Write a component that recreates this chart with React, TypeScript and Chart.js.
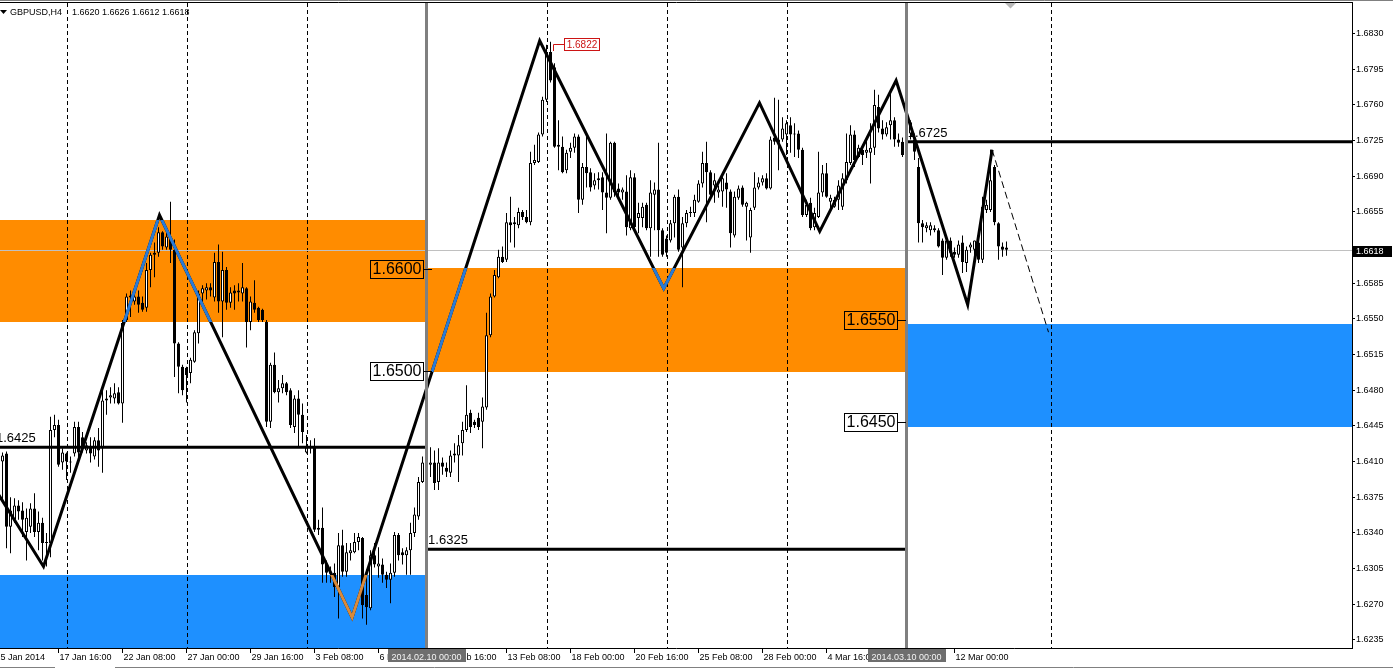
import React, { useEffect, useRef } from 'react';
import { Chart, registerables } from 'chart.js';

Chart.register(...registerables);

const FONT = "'Liberation Sans', Arial, sans-serif";

// ---- candles (H4 bars, bar index 0 = 15 Jan 2014 00:00) ----
const FIRST_BAR = 2;
const opens = [
  1.6410,1.6418,1.6346,1.6353,1.6367,1.6362,1.6341,1.6346,1.6364,1.6341,
  1.6350,1.6330,1.6330,1.6441,1.6446,1.6409,1.6418,1.6409,1.6418,1.6444,
  1.6434,1.6421,1.6424,1.6415,1.6431,1.6423,1.6470,1.6473,1.6472,1.6478,
  1.6467,1.6549,1.6573,1.6567,1.6572,1.6566,1.6561,1.6598,1.6613,1.6615,
  1.6635,1.6620,1.6630,1.6618,1.6526,1.6503,1.6502,1.6497,1.6508,1.6536,
  1.6575,1.6578,1.6581,1.6571,1.6606,1.6567,1.6598,1.6566,1.6578,1.6576,
  1.6575,1.6580,1.6547,1.6566,1.6561,1.6559,1.6547,1.6449,1.6505,1.6478,
  1.6482,1.6487,1.6480,1.6444,1.6472,1.6456,1.6419,1.6423,1.6424,1.6343,
  1.6345,1.6310,1.6302,1.6301,1.6287,1.6328,1.6302,1.6320,1.6321,1.6331,
  1.6335,1.6279,1.6266,1.6318,1.6307,1.6309,1.6299,1.6294,1.6301,1.6338,
  1.6321,1.6318,1.6323,1.6340,1.6356,1.6390,1.6409,1.6407,1.6409,1.6390,
  1.6409,1.6404,1.6399,1.6416,1.6416,1.6428,1.6441,1.6458,1.6449,1.6453,
  1.6449,1.6463,1.6534,1.6572,1.6591,1.6611,1.6608,1.6645,1.6645,1.6642,
  1.6655,1.6650,1.6645,1.6703,1.6704,1.6731,1.6765,1.6812,1.6797,1.6721,
  1.6719,1.6696,1.6714,1.6718,1.6729,1.6667,1.6699,1.6694,1.6681,1.6686,
  1.6689,1.6674,1.6669,1.6723,1.6678,1.6674,1.6675,1.6639,1.6689,1.6649,
  1.6649,1.6662,1.6639,1.6672,1.6677,1.6637,1.6629,1.6627,1.6644,1.6670,
  1.6620,1.6644,1.6654,1.6654,1.6665,1.6683,1.6703,1.6694,1.6681,1.6674,
  1.6675,1.6684,1.6675,1.6632,1.6669,1.6679,1.6660,1.6630,1.6659,1.6679,
  1.6684,1.6688,1.6678,1.6728,1.6726,1.6726,1.6731,1.6740,1.6732,1.6732,
  1.6716,1.6652,1.6664,1.6640,1.6650,1.6674,1.6693,1.6665,1.6660,1.6667,
  1.6660,1.6686,1.6703,1.6731,1.6709,1.6716,1.6713,1.6713,1.6718,1.6758,
  1.6737,1.6731,1.6740,1.6745,1.6726,1.6724,1.6716,1.6732,1.6726,1.6699,
  1.6644,1.6639,1.6637,1.6639,1.6637,1.6627,1.6610,1.6627,1.6616,1.6613,
  1.6625,1.6605,1.6620,1.6618,1.6625,1.6608,1.6657,1.6657,1.6699,1.6644,
  1.6621,1.6620,
];
const highs = [
  1.6419,1.6420,1.6375,1.6374,1.6372,1.6370,1.6364,1.6369,1.6379,1.6361,
  1.6355,1.6340,1.6454,1.6456,1.6451,1.6423,1.6419,1.6415,1.6449,1.6449,
  1.6439,1.6429,1.6434,1.6434,1.6443,1.6480,1.6480,1.6483,1.6487,1.6483,
  1.6549,1.6575,1.6578,1.6575,1.6578,1.6572,1.6605,1.6615,1.6625,1.6640,
  1.6636,1.6636,1.6665,1.6628,1.6527,1.6505,1.6503,1.6512,1.6539,1.6578,
  1.6583,1.6585,1.6585,1.6615,1.6623,1.6616,1.6601,1.6581,1.6583,1.6585,
  1.6605,1.6581,1.6572,1.6588,1.6562,1.6560,1.6549,1.6507,1.6517,1.6490,
  1.6495,1.6488,1.6482,1.6475,1.6480,1.6467,1.6436,1.6431,1.6433,1.6353,
  1.6365,1.6313,1.6307,1.6310,1.6340,1.6343,1.6330,1.6330,1.6340,1.6340,
  1.6336,1.6304,1.6323,1.6330,1.6326,1.6315,1.6302,1.6310,1.6341,1.6340,
  1.6325,1.6326,1.6350,1.6365,1.6395,1.6415,1.6419,1.6424,1.6421,1.6423,
  1.6414,1.6409,1.6421,1.6428,1.6436,1.6449,1.6485,1.6461,1.6451,1.6458,
  1.6473,1.6556,1.6575,1.6598,1.6618,1.6621,1.6654,1.6670,1.6650,1.6659,
  1.6657,1.6657,1.6714,1.6721,1.6733,1.6768,1.6819,1.6822,1.6801,1.6745,
  1.6729,1.6716,1.6723,1.6732,1.6731,1.6703,1.6729,1.6698,1.6693,1.6694,
  1.6694,1.6732,1.6724,1.6724,1.6683,1.6679,1.6691,1.6696,1.6693,1.6664,
  1.6664,1.6664,1.6686,1.6684,1.6723,1.6639,1.6632,1.6647,1.6672,1.6677,
  1.6650,1.6657,1.6660,1.6672,1.6686,1.6714,1.6724,1.6696,1.6693,1.6681,
  1.6694,1.6693,1.6677,1.6675,1.6681,1.6681,1.6665,1.6659,1.6694,1.6689,
  1.6691,1.6693,1.6729,1.6767,1.6765,1.6748,1.6745,1.6748,1.6742,1.6735,
  1.6718,1.6667,1.6669,1.6659,1.6714,1.6701,1.6703,1.6672,1.6670,1.6686,
  1.6693,1.6732,1.6740,1.6735,1.6721,1.6721,1.6726,1.6742,1.6775,1.6770,
  1.6745,1.6743,1.6773,1.6748,1.6732,1.6728,1.6731,1.6745,1.6732,1.6708,
  1.6647,1.6645,1.6645,1.6642,1.6639,1.6629,1.6630,1.6630,1.6620,1.6627,
  1.6632,1.6621,1.6625,1.6627,1.6634,1.6670,1.6667,1.6716,1.6701,1.6645,
  1.6625,1.6626,
];
const lows = [
  1.6372,1.6325,1.6320,1.6350,1.6353,1.6336,1.6313,1.6340,1.6336,1.6323,
  1.6313,1.6307,1.6316,1.6434,1.6405,1.6402,1.6392,1.6399,1.6415,1.6414,
  1.6419,1.6418,1.6409,1.6412,1.6405,1.6399,1.6456,1.6467,1.6467,1.6466,
  1.6448,1.6547,1.6552,1.6564,1.6556,1.6557,1.6557,1.6581,1.6591,1.6611,
  1.6618,1.6618,1.6605,1.6493,1.6477,1.6475,1.6468,1.6487,1.6507,1.6526,
  1.6566,1.6569,1.6572,1.6567,1.6556,1.6532,1.6559,1.6561,1.6559,1.6567,
  1.6567,1.6522,1.6539,1.6556,1.6547,1.6547,1.6444,1.6443,1.6477,1.6468,
  1.6477,1.6475,1.6443,1.6438,1.6424,1.6428,1.6418,1.6418,1.6341,1.6338,
  1.6291,1.6291,1.6291,1.6277,1.6256,1.6297,1.6297,1.6313,1.6320,1.6323,
  1.6256,1.6250,1.6264,1.6306,1.6296,1.6291,1.6286,1.6271,1.6297,1.6313,
  1.6309,1.6299,1.6299,1.6336,1.6353,1.6389,1.6402,1.6395,1.6382,1.6382,
  1.6397,1.6395,1.6395,1.6409,1.6390,1.6416,1.6439,1.6438,1.6443,1.6441,
  1.6423,1.6461,1.6532,1.6571,1.6590,1.6605,1.6606,1.6625,1.6620,1.6639,
  1.6647,1.6644,1.6642,1.6701,1.6703,1.6729,1.6763,1.6782,1.6718,1.6696,
  1.6693,1.6693,1.6708,1.6713,1.6654,1.6662,1.6679,1.6675,1.6677,1.6677,
  1.6657,1.6634,1.6667,1.6670,1.6667,1.6667,1.6632,1.6637,1.6637,1.6634,
  1.6640,1.6637,1.6611,1.6637,1.6611,1.6611,1.6611,1.6625,1.6630,1.6616,
  1.6581,1.6640,1.6650,1.6650,1.6664,1.6679,1.6645,1.6669,1.6664,1.6669,
  1.6660,1.6659,1.6620,1.6630,1.6667,1.6660,1.6627,1.6615,1.6657,1.6677,
  1.6681,1.6677,1.6677,1.6721,1.6696,1.6724,1.6711,1.6713,1.6709,1.6708,
  1.6650,1.6650,1.6637,1.6637,1.6649,1.6670,1.6669,1.6657,1.6659,1.6657,
  1.6657,1.6683,1.6701,1.6699,1.6708,1.6701,1.6708,1.6683,1.6711,1.6733,
  1.6726,1.6729,1.6726,1.6719,1.6719,1.6709,1.6714,1.6726,1.6706,1.6625,
  1.6625,1.6635,1.6632,1.6635,1.6620,1.6593,1.6608,1.6611,1.6610,1.6610,
  1.6595,1.6596,1.6615,1.6610,1.6605,1.6605,1.6654,1.6655,1.6642,1.6608,
  1.6611,1.6612,
];
const closes = [
  1.6416,1.6346,1.6362,1.6367,1.6361,1.6353,1.6355,1.6364,1.6341,1.6350,
  1.6330,1.6331,1.6441,1.6446,1.6407,1.6419,1.6410,1.6410,1.6444,1.6419,
  1.6423,1.6426,1.6418,1.6431,1.6421,1.6470,1.6472,1.6475,1.6477,1.6467,
  1.6546,1.6572,1.6571,1.6572,1.6564,1.6559,1.6598,1.6613,1.6615,1.6635,
  1.6621,1.6631,1.6618,1.6526,1.6503,1.6480,1.6495,1.6510,1.6537,1.6575,
  1.6580,1.6581,1.6578,1.6606,1.6567,1.6598,1.6566,1.6576,1.6575,1.6578,
  1.6581,1.6547,1.6567,1.6559,1.6549,1.6549,1.6449,1.6505,1.6478,1.6482,
  1.6487,1.6478,1.6446,1.6472,1.6456,1.6439,1.6424,1.6424,1.6343,1.6345,
  1.6309,1.6301,1.6300,1.6287,1.6328,1.6302,1.6321,1.6323,1.6331,1.6336,
  1.6269,1.6267,1.6318,1.6309,1.6310,1.6299,1.6294,1.6301,1.6338,1.6318,
  1.6318,1.6323,1.6340,1.6358,1.6390,1.6409,1.6414,1.6409,1.6389,1.6409,
  1.6405,1.6400,1.6416,1.6418,1.6426,1.6441,1.6456,1.6444,1.6446,1.6444,
  1.6464,1.6534,1.6572,1.6593,1.6611,1.6606,1.6645,1.6642,1.6643,1.6655,
  1.6650,1.6645,1.6703,1.6706,1.6731,1.6765,1.6812,1.6784,1.6719,1.6719,
  1.6694,1.6713,1.6718,1.6729,1.6667,1.6699,1.6693,1.6679,1.6686,1.6688,
  1.6674,1.6669,1.6723,1.6674,1.6674,1.6677,1.6640,1.6689,1.6640,1.6654,
  1.6660,1.6639,1.6674,1.6677,1.6637,1.6613,1.6615,1.6644,1.6670,1.6618,
  1.6644,1.6654,1.6655,1.6667,1.6683,1.6703,1.6694,1.6672,1.6686,1.6677,
  1.6688,1.6677,1.6634,1.6670,1.6678,1.6662,1.6664,1.6657,1.6679,1.6684,
  1.6688,1.6678,1.6726,1.6724,1.6723,1.6737,1.6742,1.6731,1.6731,1.6716,
  1.6652,1.6662,1.6639,1.6654,1.6674,1.6693,1.6670,1.6669,1.6667,1.6681,
  1.6688,1.6704,1.6731,1.6706,1.6718,1.6711,1.6716,1.6718,1.6760,1.6737,
  1.6731,1.6738,1.6745,1.6726,1.6723,1.6711,1.6726,1.6743,1.6714,1.6644,
  1.6640,1.6642,1.6642,1.6637,1.6621,1.6610,1.6627,1.6615,1.6613,1.6623,
  1.6606,1.6618,1.6623,1.6627,1.6608,1.6660,1.6662,1.6686,1.6645,1.6621,
  1.6618,1.6618,
];

// ---- header / price info ----
const symbolText = 'GBPUSD,H4';
const ohlcText = '1.6620 1.6626 1.6612 1.6618';
const bidPrice = 1.6618;

// ---- axes ----
const yTickValues = [1.6235, 1.6270, 1.6305, 1.6340, 1.6375, 1.6410, 1.6445, 1.6480, 1.6515,
  1.6550, 1.6585, 1.6655, 1.6690, 1.6725, 1.6760, 1.6795, 1.6830];
const timeLabelBars = [0, 16, 32, 48, 64, 80, 96, 112, 128, 144, 160, 176, 192, 208, 224, 240];
const timeLabelTexts = ['15 Jan 2014', '17 Jan 16:00', '22 Jan 08:00', '27 Jan 00:00', '29 Jan 16:00',
  '3 Feb 08:00', '6 Feb 00:00', '10 Feb 16:00', '13 Feb 08:00', '18 Feb 00:00', '20 Feb 16:00',
  '25 Feb 08:00', '28 Feb 00:00', '4 Mar 16:00', '7 Mar 08:00', '12 Mar 00:00'];

// ---- objects ----
const separatorBars = [108, 228];
const separatorTexts = ['2014.02.10 00:00', '2014.03.10 00:00'];
const gridBars = [18.25, 48.25, 78.25, 138.25, 168.25, 198.25, 264.25];

const zoneFrom = [-10, -10, 108.25, 228.25];
const zoneTo = [108.25, 108.25, 228.25, 400];
const zoneTop = [1.6647, 1.6299, 1.6600, 1.6545];
const zoneBottom = [1.6547, 1.6100, 1.6498, 1.6444];
const zoneFill = ['#FF8C00', '#1E90FF', '#FF8C00', '#1E90FF'];
const zoneLineInk = ['#2a7bd6', '#d98a3b', '#2a7bd6', '#d98a3b'];

const levelFrom = [-10, 108.25, 228.25];
const levelTo = [108.25, 228.25, 400];
const levelPrice = [1.6424, 1.6324, 1.6724];
const levelText = ['1.6425', '1.6325', '1.6725'];
const levelTextBar = [0.375, 108.4, 228.3];

const zigzagBars = [0, 12.25, 41.25, 89.4, 136.3, 167.3, 191.25, 206.3, 225.4, 243.3, 249.4];
const zigzagPrices = [1.6384, 1.6307, 1.6652, 1.6257, 1.6823, 1.6580, 1.6762, 1.6636, 1.6784, 1.6564, 1.6716];
const projectionBars = [249.4, 263.5];
const projectionPrices = [1.6716, 1.6537];

const priceTagValues = [1.6600, 1.6500, 1.6550, 1.6450];
const priceTagBars = [109.4, 109.4, 227.85, 227.85];

const highMarkBar = 139;
const highMarkPrice = 1.6822;
const shiftMarkBar = 254;

// visible ranges
const X_MIN = 1.375;
const X_MAX = 339.375;
const Y_MAX = 1.686006;
const Y_MIN = 1.622706;

const mt4Plugin: any = {
  id: 'mt4',
  beforeDatasetsDraw(chart: any) {
    const { ctx, chartArea: a } = chart;
    const x = chart.scales.x, y = chart.scales.y;
    ctx.save();
    ctx.beginPath();
    ctx.rect(a.left, a.top, a.right - a.left, a.bottom - a.top);
    ctx.clip();
    zoneFill.forEach((c, k) => {
      const x0 = Math.round(x.getPixelForValue(zoneFrom[k]));
      const x1 = Math.round(x.getPixelForValue(zoneTo[k]));
      const y0 = Math.round(y.getPixelForValue(zoneTop[k]));
      const y1 = Math.round(y.getPixelForValue(zoneBottom[k]));
      ctx.fillStyle = c;
      ctx.fillRect(x0, y0, x1 - x0, y1 - y0);
    });
    ctx.strokeStyle = '#000';
    ctx.lineWidth = 1;
    ctx.setLineDash([4, 3]);
    gridBars.forEach((g) => {
      const gx = Math.floor(x.getPixelForValue(g)) + 0.5;
      ctx.beginPath();
      ctx.moveTo(gx, a.top);
      ctx.lineTo(gx, a.bottom);
      ctx.stroke();
    });
    ctx.setLineDash([]);
    const by = Math.round(y.getPixelForValue(bidPrice)) + 0.5;
    ctx.strokeStyle = '#C0C0C0';
    ctx.beginPath();
    ctx.moveTo(a.left, by);
    ctx.lineTo(a.right, by);
    ctx.stroke();
    ctx.restore();
  },
  afterDatasetsDraw(chart: any) {
    const { ctx, chartArea: a } = chart;
    const x = chart.scales.x, y = chart.scales.y;
    const pts = zigzagBars.map((b, k) => [x.getPixelForValue(b), y.getPixelForValue(zigzagPrices[k])]);
    zoneFill.forEach((_, k) => {
      const x0 = Math.max(a.left, Math.round(x.getPixelForValue(zoneFrom[k])));
      const x1 = Math.min(a.right, Math.round(x.getPixelForValue(zoneTo[k])));
      const y0 = Math.max(a.top, Math.round(y.getPixelForValue(zoneTop[k])));
      const y1 = Math.min(a.bottom, Math.round(y.getPixelForValue(zoneBottom[k])));
      ctx.save();
      ctx.beginPath();
      ctx.rect(x0, y0, x1 - x0, y1 - y0);
      ctx.clip();
      ctx.strokeStyle = zoneLineInk[k];
      ctx.lineWidth = 3;
      ctx.lineJoin = 'miter';
      ctx.beginPath();
      pts.forEach(([px, py], i) => (i ? ctx.lineTo(px, py) : ctx.moveTo(px, py)));
      ctx.stroke();
      ctx.restore();
    });
    // level descriptions
    ctx.save();
    ctx.font = `13px ${FONT}`;
    ctx.fillStyle = '#000';
    ctx.textAlign = 'left';
    ctx.textBaseline = 'alphabetic';
    levelText.forEach((t, k) => {
      ctx.fillText(t, x.getPixelForValue(levelTextBar[k]), Math.round(y.getPixelForValue(levelPrice[k])) - 5);
    });
    ctx.restore();
    // vertical separators
    ctx.save();
    ctx.strokeStyle = '#808080';
    ctx.lineWidth = 3;
    separatorBars.forEach((b) => {
      const sx = x.getPixelForValue(b);
      ctx.beginPath();
      ctx.moveTo(sx, a.top);
      ctx.lineTo(sx, a.bottom);
      ctx.stroke();
    });
    ctx.restore();
  },
  afterDraw(chart: any) {
    const { ctx, chartArea: a, width: W } = chart;
    const x = chart.scales.x, y = chart.scales.y;
    ctx.save();
    // frame
    ctx.lineWidth = 1;
    ctx.strokeStyle = '#808080';
    ctx.beginPath(); ctx.moveTo(0, 0.5); ctx.lineTo(W, 0.5); ctx.stroke();
    ctx.strokeStyle = '#000';
    ctx.beginPath(); ctx.moveTo(0, 2.5); ctx.lineTo(a.right + 1, 2.5); ctx.stroke();
    ctx.beginPath(); ctx.moveTo(0, a.bottom + 0.5); ctx.lineTo(a.right + 1, a.bottom + 0.5); ctx.stroke();
    ctx.strokeStyle = '#808080';
    ctx.beginPath(); ctx.moveTo(0, 667.5); ctx.lineTo(55, 667.5); ctx.moveTo(115, 667.5); ctx.lineTo(W, 667.5); ctx.stroke();

    // price tags with boxes
    ctx.font = `16px ${FONT}`;
    ctx.textAlign = 'center';
    ctx.textBaseline = 'middle';
    priceTagValues.forEach((v, k) => {
      const ax = Math.round(x.getPixelForValue(priceTagBars[k]));
      const ay = Math.round(y.getPixelForValue(v)) + 1;
      const right = ax - 9;
      const left = right - 53;
      ctx.strokeStyle = '#000';
      ctx.lineWidth = 1;
      ctx.strokeRect(left + 0.5, ay - 8.5, 53, 18);
      ctx.beginPath();
      ctx.moveTo(right, ay + 0.5);
      ctx.lineTo(ax, ay + 0.5);
      ctx.stroke();
      ctx.fillStyle = '#000';
      ctx.fillText(v.toFixed(4), left + 27, ay + 1);
    });

    // high mark label
    const hx = Math.round(x.getPixelForValue(highMarkBar));
    const hy = Math.round(y.getPixelForValue(highMarkPrice));
    ctx.strokeStyle = '#cc1414';
    ctx.beginPath();
    ctx.moveTo(hx + 2.5, hy + 9);
    ctx.lineTo(hx + 2.5, hy + 2.5);
    ctx.lineTo(hx + 13, hy + 2.5);
    ctx.stroke();
    ctx.fillStyle = '#fff';
    ctx.fillRect(hx + 13, hy - 3, 35, 12);
    ctx.strokeRect(hx + 13.5, hy - 3.5, 35, 12);
    ctx.fillStyle = '#cc1414';
    ctx.font = `10px ${FONT}`;
    ctx.fillText(highMarkPrice.toFixed(4), hx + 31, hy + 3);

    // bid label on the price axis
    const by = Math.round(y.getPixelForValue(bidPrice));
    ctx.fillStyle = '#000';
    ctx.fillRect(a.right, by - 4, 40, 11);
    ctx.fillStyle = '#fff';
    ctx.font = `9px ${FONT}`;
    ctx.textAlign = 'left';
    ctx.fillText(bidPrice.toFixed(4), a.right + 4, by + 2);

    // time axis
    ctx.fillStyle = '#000';
    ctx.strokeStyle = '#000';
    ctx.textBaseline = 'alphabetic';
    timeLabelBars.forEach((b, k) => {
      const tx = Math.floor(x.getPixelForValue(b)) + 0.5;
      ctx.beginPath();
      ctx.moveTo(tx, a.bottom + 1);
      ctx.lineTo(tx, a.bottom + 5);
      ctx.stroke();
      ctx.fillText(timeLabelTexts[k], tx + 1, 660);
    });
    ctx.textAlign = 'center';
    separatorBars.forEach((b, k) => {
      const sx = x.getPixelForValue(b);
      ctx.fillStyle = '#6e6e6e';
      ctx.fillRect(Math.round(sx - 39), a.bottom + 1, 78, 13);
      ctx.fillStyle = '#f4f4f4';
      ctx.fillText(separatorTexts[k], sx, 660);
    });

    // header
    ctx.textAlign = 'left';
    ctx.fillStyle = '#000';
    ctx.font = `9px ${FONT}`;
    ctx.fillText(symbolText, 10, 15);
    ctx.fillText(ohlcText, 72, 15);
    ctx.beginPath();
    ctx.moveTo(0, 10); ctx.lineTo(7, 10); ctx.lineTo(3.5, 14); ctx.closePath();
    ctx.fill();

    // chart shift marker
    const mx = x.getPixelForValue(shiftMarkBar);
    ctx.fillStyle = '#b8b8b8';
    ctx.beginPath();
    ctx.moveTo(mx - 5.5, 3); ctx.lineTo(mx + 5.5, 3); ctx.lineTo(mx, 8.5); ctx.closePath();
    ctx.fill();
    ctx.restore();
  },
};

export default function App() {
  const ref = useRef<HTMLCanvasElement | null>(null);

  useEffect(() => {
    const canvas = ref.current;
    if (!canvas) return;
    Chart.defaults.font.family = FONT;

    const bars = opens.map((_, k) => FIRST_BAR + k);
    const wickData = bars.map((b, k) => ({ x: b, y: [lows[k], highs[k]] }));
    const bodyData = bars.map((b, k) => ({ x: b, y: [Math.min(opens[k], closes[k]), Math.max(opens[k], closes[k])] }));
    const bodyColors = opens.map((o, k) => (closes[k] >= o ? '#ffffff' : '#000000'));

    const levelSets = levelPrice.map((p, k) => ({
      type: 'line',
      label: 'level ' + levelText[k],
      data: [{ x: levelFrom[k], y: p }, { x: levelTo[k], y: p }],
      borderColor: '#000',
      borderWidth: 3,
      pointRadius: 0,
      tension: 0,
      order: 3,
    }));

    const chart = new Chart(canvas, {
      type: 'bar',
      data: {
        datasets: [
          {
            type: 'line',
            label: 'zigzag',
            data: zigzagBars.map((b, k) => ({ x: b, y: zigzagPrices[k] })),
            borderColor: '#000',
            borderWidth: 3,
            borderJoinStyle: 'miter',
            pointRadius: 0,
            tension: 0,
            order: 2,
          },
          {
            type: 'line',
            label: 'projection',
            data: projectionBars.map((b, k) => ({ x: b, y: projectionPrices[k] })),
            borderColor: '#000',
            borderWidth: 1,
            borderDash: [7, 4],
            pointRadius: 0,
            tension: 0,
            order: 1,
          },
          ...levelSets,
          {
            type: 'bar',
            label: 'bodies',
            data: bodyData,
            barThickness: 3,
            minBarLength: 1,
            backgroundColor: bodyColors,
            borderColor: '#000',
            borderWidth: 1,
            borderSkipped: false,
            grouped: false,
            inflateAmount: 0,
            order: 8,
          },
          {
            type: 'bar',
            label: 'wicks',
            data: wickData,
            barThickness: 1,
            backgroundColor: '#000',
            borderWidth: 0,
            grouped: false,
            inflateAmount: 0,
            order: 9,
          },
        ] as any,
      },
      options: {
        responsive: false,
        animation: false,
        devicePixelRatio: 1,
        events: [],
        layout: { autoPadding: false, padding: { top: 3, right: 0, bottom: 21, left: 0 } },
        plugins: { legend: { display: false }, tooltip: { enabled: false } },
        scales: {
          x: { type: 'linear', min: X_MIN, max: X_MAX, offset: false, display: false },
          y: {
            type: 'linear',
            position: 'right',
            min: Y_MIN,
            max: Y_MAX,
            afterBuildTicks: (s: any) => {
              s.ticks = yTickValues.map((v) => ({ value: v }));
            },
            afterFit: (s: any) => {
              s.width = 41;
              s.paddingTop = 0;
              s.paddingBottom = 0;
            },
            ticks: {
              autoSkip: false,
              padding: 1,
              color: '#000',
              font: { family: FONT, size: 9 },
              callback: (v: any) => Number(v).toFixed(4),
            },
            grid: { display: true, drawOnChartArea: false, drawTicks: true, tickLength: 3, tickColor: '#000' },
            border: { display: true, color: '#000', width: 1 },
          },
        },
      } as any,
      plugins: [mt4Plugin],
    });
    return () => chart.destroy();
  }, []);

  return (
    <div style={{ position: 'fixed', left: 0, top: 0, width: 1393, height: 669, background: '#fff' }}>
      <canvas ref={ref} width={1393} height={669} style={{ display: 'block', width: 1393, height: 669 }} />
    </div>
  );
}
